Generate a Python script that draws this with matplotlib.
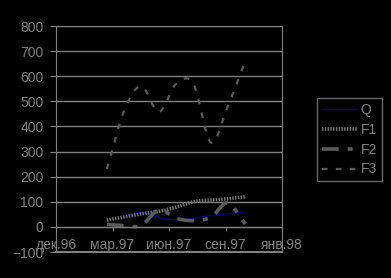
import numpy as np
import matplotlib
matplotlib.use("Agg")
import matplotlib.pyplot as plt
import matplotlib.dates as mdates
from datetime import date, timedelta

plt.rcParams['font.family'] = ['Liberation Sans', 'DejaVu Sans']
plt.rcParams['lines.scale_dashes'] = False

# monthly data, Mar 97 .. Nov 97
months = [date(1997, m, 1) for m in range(3, 12)]
Q = [np.nan, 40, 58, 38, 28, 34, 46, 52, 60]
F1 = [27, 40, 52, 62, 78, 100, 107, 112, 120]
F2 = [10, 5, 6, 68, 35, 25, 38, 95, 12]
F3 = [230, 465, 560, 458, 568, 570, 336, 480, 660]

tick_dates = [date(1996, 12, 1) + timedelta(days=100 * i) for i in range(5)]
tick_labels = ['дек.96', 'мар.97', 'июн.97', 'сен.97', 'янв.98']
y_ticks = list(range(-100, 801, 100))


def smooth(xs, ys, n=20):
    # catmull-rom curve through the points (like excel "smoothed line")
    xs = np.asarray(xs, float)
    ys = np.asarray(ys, float)
    ok = ~np.isnan(ys)
    xs, ys = xs[ok], ys[ok]
    px = np.concatenate([[2 * xs[0] - xs[1]], xs, [2 * xs[-1] - xs[-2]]])
    py = np.concatenate([[2 * ys[0] - ys[1]], ys, [2 * ys[-1] - ys[-2]]])
    t = np.linspace(0, 1, n)
    outx, outy = [], []
    for i in range(1, len(px) - 2):
        for p, out in ((px, outx), (py, outy)):
            p0, p1, p2, p3 = p[i - 1], p[i], p[i + 1], p[i + 2]
            out.extend(0.5 * (2 * p1 + (-p0 + p2) * t
                              + (2 * p0 - 5 * p1 + 4 * p2 - p3) * t ** 2
                              + (-p0 + 3 * p1 - 3 * p2 + p3) * t ** 3))
    return np.array(outx), np.array(outy)


xn = mdates.date2num(months)
grey = '#808080'

fig = plt.figure(figsize=(3.91, 2.78), dpi=100, facecolor='black')
ax = fig.add_axes([56 / 391, 1 - 252 / 278, 226 / 391, 226 / 278])
ax.set_facecolor('black')

styles = {
    'Q': dict(color='#000080', lw=1.0),
    'F1': dict(color='#7a7a7a', lw=2.6, dashes=(1, 1)),
    'F2': dict(color='#5a5a5a', lw=2.6, dashes=(12, 6.5, 3.6, 6.5)),
    'F3': dict(color='#5a5a5a', lw=1.6, dashes=(4, 6)),
}
for name, vals in (('Q', Q), ('F1', F1), ('F2', F2), ('F3', F3)):
    sx, sy = smooth(xn, vals)
    ax.plot(sx, sy, label=name, **styles[name])

ax.set_ylim(-100, 800)
ax.set_yticks(y_ticks)
ax.set_xlim(mdates.date2num(tick_dates[0]), mdates.date2num(tick_dates[-1]))
ax.set_xticks(mdates.date2num(tick_dates))
ax.set_xticklabels(tick_labels)
ax.grid(axis='y', color=grey, lw=1)
ax.set_axisbelow(True)

for s in ('top', 'right', 'left'):
    ax.spines[s].set_color(grey)
ax.spines['bottom'].set_position(('data', 0))
ax.spines['bottom'].set_color(grey)
ax.axhline(-100, color=grey, lw=1.5, clip_on=False)
ax.tick_params(axis='y', colors=grey, labelsize=10, length=4, pad=5)
ax.tick_params(axis='x', colors=grey, labelsize=10, length=3, pad=5)

leg = ax.legend(loc='upper left', bbox_to_anchor=(317 / 391, 1 - 98 / 278),
                bbox_transform=fig.transFigure, frameon=True, fancybox=False,
                fontsize=10, handlelength=2.5, handletextpad=0.3,
                labelspacing=0.42, borderpad=0.35, borderaxespad=0)
leg.get_frame().set_facecolor('black')
leg.get_frame().set_edgecolor(grey)
for t in leg.get_texts():
    t.set_color(grey)

fig.savefig('out.png', dpi=100, facecolor='black')
